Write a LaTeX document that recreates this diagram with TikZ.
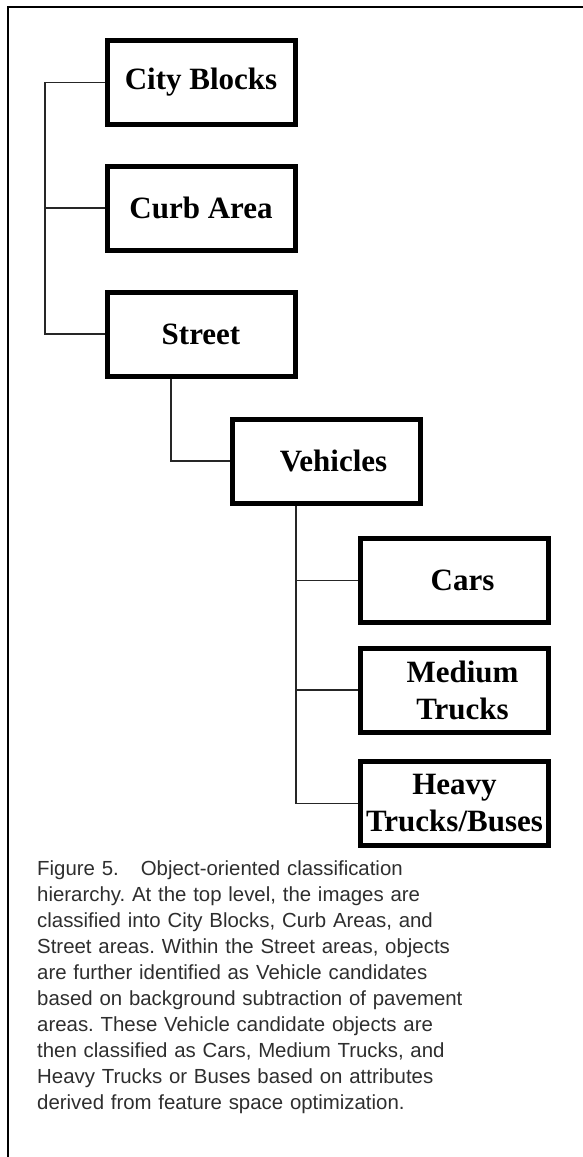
\documentclass[tikz,border=0pt]{standalone}
\usepackage{fontspec}
\setmainfont{Liberation Serif}
\newfontfamily\capfont{Liberation Sans}
\frenchspacing
\begin{document}
\begin{tikzpicture}[x=1pt,y=-1pt,
  catbox/.style={draw=black, line width=5pt, rectangle, inner sep=0pt,
    minimum width=188pt, minimum height=84pt, align=center,
    font=\fontsize{31}{37}\selectfont\bfseries},
  link/.style={draw=black!85, line width=1.4pt},
  frame/.style={draw=black, line width=2pt}]
\useasboundingbox (0,0) rectangle (583,1157);
\draw[frame] (583,7) -- (8,7) -- (8,1157);

\node[catbox] (city)   at (201,82.5)   {City Blocks};
\node[catbox] (curb)   at (201,208)    {Curb Area};
\node[catbox] (street) at (201,334)    {Street};
\node[catbox] (veh)    at (326.5,461)  {\hspace*{14pt}Vehicles};
\node[catbox] (cars)   at (454.5,580.5){\hspace*{16pt}Cars};
\node[catbox] (med)    at (454.5,690)  {\hspace*{16pt}Medium\\\hspace*{16pt}Trucks};
\node[catbox] (heavy)  at (454.5,803.5){Heavy\\Trucks/Buses};

\coordinate (trunk) at (45,0);
\coordinate (sv) at (171,0);
\coordinate (vc) at (296,0);

\draw[link] (city.west) -| (trunk |- street.west) -- (street.west);
\draw[link] (curb.west) -- (curb.west -| trunk);
\draw[link] (street.south -| sv) |- (veh.west);
\draw[link] (veh.south -| vc) |- (heavy.west);
\draw[link] (cars.west) -- (cars.west -| vc);
\draw[link] (med.west) -- (med.west -| vc);

\node[anchor=base west, inner sep=0pt, text width=540pt, align=left,
  text=black!82, font=\capfont\fontsize{20.4}{26}\selectfont] (cap) at (37,875.5)
  {Figure 5.\hspace{22pt}Object-oriented classification\\
   hierarchy. At the top level, the images are\\
   classified into City Blocks, Curb Areas, and\\
   Street areas. Within the Street areas, objects\\
   are further identified as Vehicle candidates\\
   based on background subtraction of pavement\\
   areas. These Vehicle candidate objects are\\
   then classified as Cars, Medium Trucks, and\\
   Heavy Trucks or Buses based on attributes\\
   derived from feature space optimization.};
\end{tikzpicture}
\end{document}
